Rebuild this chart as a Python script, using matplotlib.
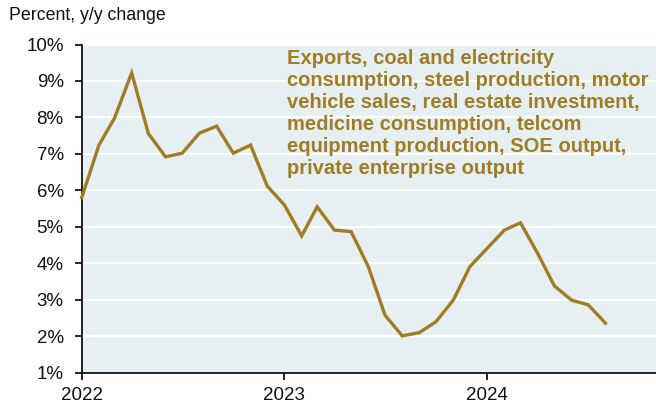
import matplotlib
matplotlib.use("Agg")
import matplotlib.pyplot as plt
import pandas as pd

plt.rcParams['font.family'] = ['Liberation Sans', 'DejaVu Sans']

dates = pd.date_range('2022-01-01', periods=32, freq='MS')
values = [5.80, 7.24, 7.98, 9.22, 7.56, 6.92, 7.02, 7.57, 7.76, 7.02,
          7.24, 6.12, 5.60, 4.75, 5.55, 4.91, 4.87, 3.91, 2.58, 2.01,
          2.10, 2.40, 2.99, 3.91, 4.41, 4.91, 5.11, 4.27, 3.38, 2.99,
          2.86, 2.36]
yticks = [1, 2, 3, 4, 5, 6, 7, 8, 9, 10]
ytick_labels = [f"{v}%" for v in yticks]
xtick_years = ['2022', '2023', '2024']
annotation = ("Exports, coal and electricity\n"
              "consumption, steel production, motor\n"
              "vehicle sales, real estate investment,\n"
              "medicine consumption, telcom\n"
              "equipment production, SOE output,\n"
              "private enterprise output")

line_color = '#A07D24'
bg_color = '#E6F0F3'

fig = plt.figure(figsize=(6.56, 4.09), dpi=100)
ax = fig.add_axes([81.7/656, 1 - 372.7/409, 1 - 81.7/656, (372.7 - 44.5)/409])
ax.set_facecolor(bg_color)

ax.plot(dates, values, color=line_color, lw=2.4, solid_joinstyle='miter', clip_on=False, zorder=3)

ax.set_ylim(1, 10)
ax.set_yticks(yticks)
ax.set_yticklabels(ytick_labels)
xt = [pd.Timestamp(f"{y}-01-01") for y in xtick_years]
ax.set_xticks(xt)
ax.set_xticklabels(xtick_years)
ax.set_xlim(pd.Timestamp('2022-01-01'), pd.Timestamp('2024-10-31'))

ax.grid(axis='y', color='white', lw=1.5)
ax.grid(axis='x', visible=False)
ax.set_axisbelow(True)
for s in ['top', 'right']:
    ax.spines[s].set_visible(False)
for s in ['left', 'bottom']:
    ax.spines[s].set_color('black')
    ax.spines[s].set_linewidth(1.2)
ax.tick_params(axis='both', direction='out', length=5, width=1.2, colors='black',
               labelsize=13.5, labelcolor='#111111')
ax.tick_params(axis='y', pad=8)
ax.tick_params(axis='x', pad=5)

fig.text(9/656, 1 - 7/409, "Percent, y/y change", fontsize=12.8, color='#111111',
         ha='left', va='top')

ax.text(287.3/656, 1 - 49/409, annotation, transform=fig.transFigure,
        fontsize=14.5, fontweight='bold', color=line_color, ha='left', va='top',
        linespacing=1.2)

fig.savefig('out.png', dpi=100)
